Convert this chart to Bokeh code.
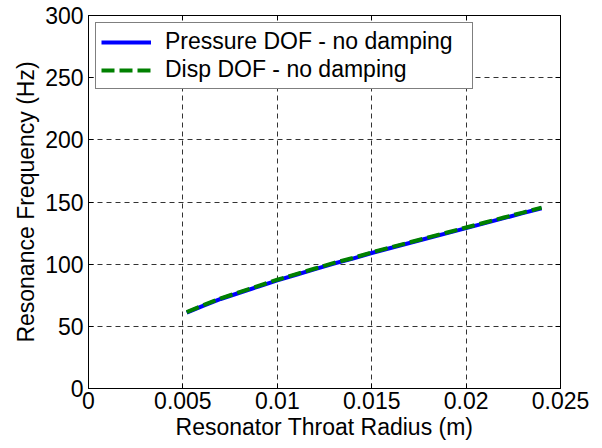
from bokeh.plotting import figure
from bokeh.models import Range1d, LinearAxis, FixedTicker, Legend, LegendItem
from bokeh.embed import file_html
from bokeh.resources import INLINE

# Throat radius (m) and resonance frequency (Hz)
radius = [0.0052, 0.006, 0.007, 0.008, 0.009, 0.010, 0.011, 0.012, 0.013, 0.014,
          0.015, 0.016, 0.017, 0.018, 0.019, 0.020, 0.021, 0.022, 0.023, 0.024]
freq_pressure = [61, 66, 72, 77, 82, 87, 91.5, 96, 100.5, 104.5,
                 109, 113, 117, 121, 125, 129, 133, 137, 141, 145]
freq_disp = [61.5, 66.5, 72.5, 77.5, 82.5, 87.5, 92, 96.5, 101, 105,
             109.5, 113.5, 117.5, 121.5, 125.5, 129.5, 133.5, 137.5, 141.5, 145.5]

x_ticks = [0, 0.005, 0.01, 0.015, 0.02, 0.025]
x_tick_labels = ["0", "0.005", "0.01", "0.015", "0.02", "0.025"]
y_ticks = [0, 50, 100, 150, 200, 250, 300]

FONT = "Liberation Sans"
FS = "23px"

p = figure(width=602, height=448, output_backend="svg", toolbar_location=None,
           x_range=Range1d(0, 0.025), y_range=Range1d(0, 300),
           min_border_left=88, min_border_right=42, min_border_top=15, min_border_bottom=60)
p.outline_line_color = "black"
p.outline_line_width = 1

for ax in (p.xaxis[0], p.yaxis[0]):
    ax.axis_line_color = "black"
    ax.major_tick_line_color = "black"
    ax.major_tick_in = 5
    ax.major_tick_out = 0
    ax.minor_tick_line_color = None
    ax.major_label_text_font = FONT
    ax.major_label_text_font_size = FS
    ax.major_label_text_color = "black"
    ax.axis_label_text_font = FONT
    ax.axis_label_text_font_size = FS
    ax.axis_label_text_font_style = "normal"
    ax.axis_label_text_color = "black"

p.xaxis.ticker = FixedTicker(ticks=x_ticks)
p.xaxis.major_label_overrides = {t: l for t, l in zip(x_ticks, x_tick_labels)}
p.xaxis.axis_label = "Resonator Throat Radius (m)"
p.xaxis.major_label_standoff = 3
p.xaxis.axis_label_standoff = 2
p.yaxis.ticker = FixedTicker(ticks=y_ticks)
p.yaxis.axis_label = "Resonance Frequency (Hz)"
p.yaxis.major_label_standoff = 5
p.yaxis.axis_label_standoff = 3

# Box ticks on the top and right edges (no labels)
for side, ticks in (("above", x_ticks), ("right", y_ticks)):
    a = LinearAxis(ticker=FixedTicker(ticks=ticks))
    a.major_label_overrides = {t: "" for t in ticks}
    a.major_tick_in = 5
    a.major_tick_out = 0
    a.minor_tick_line_color = None
    a.axis_line_color = "black"
    a.major_tick_line_color = "black"
    p.add_layout(a, side)

p.grid.grid_line_color = "#333333"
p.grid.grid_line_dash = "5 4"
p.grid.grid_line_width = 1
p.xgrid.ticker = FixedTicker(ticks=x_ticks)
p.ygrid.ticker = FixedTicker(ticks=y_ticks)

r1 = p.line(radius, freq_pressure, line_color="#0000ff", line_width=4)
r2 = p.line(radius, freq_disp, line_color="#008000", line_width=4, line_dash="13 5")

legend = Legend(items=[LegendItem(label="Pressure DOF - no damping", renderers=[r1]),
                       LegendItem(label="Disp DOF - no damping", renderers=[r2])],
                location="top_left")
legend.border_line_color = "black"
legend.border_line_width = 1
legend.label_text_font = FONT
legend.label_text_font_size = FS
legend.label_text_color = "black"
legend.glyph_width = 50
legend.glyph_height = 24
legend.label_height = 24
legend.label_width = 302
legend.label_standoff = 14
legend.spacing = 1
legend.padding = 5
legend.margin = 7
legend.background_fill_alpha = 1
p.add_layout(legend)

open("out.html", "w").write(file_html(p, INLINE))
